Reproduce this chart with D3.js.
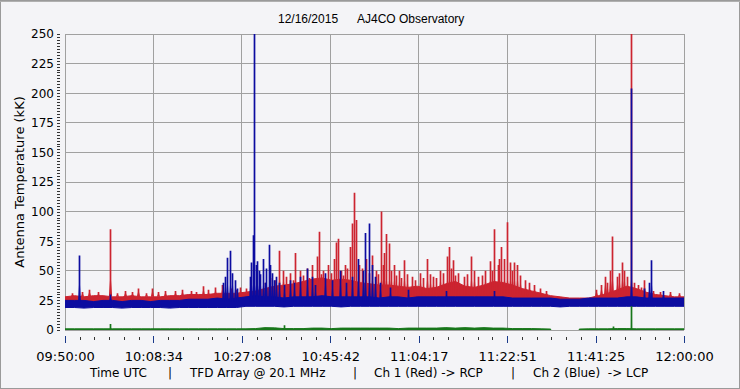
<!DOCTYPE html>
<html lang="en">
<head>
<meta charset="UTF-8">
<title>AJ4CO Observatory</title>
<script src="https://d3js.org/d3.v7.min.js"></script>
<style>
  body { margin: 0; background: #f4f4f7; }
  svg { display: block; }
  .tick text { fill: #000; }
</style>
</head>
<body>
<svg id="chart" width="740" height="389"></svg>
<script>
// minutes after 09:50:00 UTC, 2 min steps
const minutes = [0,2,4,6,8,10,12,14,16,18,20,22,24,26,28,30,32,34,36,38,40,42,44,46,48,50,52,54,56,58,60,62,64,66,68,70,72,74,76,78,80,82,84,86,88,90,92,94,96,98,100,102,104,106,108,110,112,114,116,118,120,122,124,126,128,130];

// Ch 1 (red, RCP) top of the dense band, kK
const redTop = [28,29,28,29,29,28,28,29,28,28,28,29,29,30,30,
  30,31,31,31,32, 33,35,37,38,39, 41,43,44,42,43,42,
  40,39,38,38,37,36,37, 35,36,39,41,37,36,38,41,
  40,38,35,33,31, 29,28,27,27,27, 29,31,34,37,35, 32,30,29,28,28];

// Ch 2 (blue, LCP) band
const blueHi = [25,25,25,24,25,25,24,25,25,24,25,25,25,26,26,
  26,27,26,27,28, 29,28,28,27,28, 28,28,29,28,28,28,
  28,28,27,28,28,27,28, 28,28,28,28,28,28,28,28,
  28,27,27,27,27, 27,26,26,26,27, 27,27,27,28,28, 27,27,27,27,27];
const blueLo = [19,19,18.5,19,19,19,18.5,19,19,19,19,18.5,19,19,19,
  19,19,19,19,20, 20,20,20,19.5,20, 20,20,20,20,19.5,20,
  20,20,20,20,20,20,20, 20,20,20,20,20,20,20,20,
  20,20,20,20,20, 20,19.5,20,20,20, 20,20,20,20,20, 20,20,20,20,20];

// reference channel (green)
const greenHi = [1,1,1,1,1,1,1,1,1,1,1,1,1,1,1,
  1,1,1,1,1, 1.2,2,1.8,1.2,1.2, 1.2,1.6,1.6,1.2,1.6,1.6,
  1.6,1.6,1.6,1.6,1.2,1.6,1.6, 1.6,1.6,2,1.6,2,1.6,2,1.6,
  1.6,1.2,1.2,1.2,1, 0.8,null,null,0.8,1, 1,1,1.2,1.2,1, 1,1,1,1,1];

// spikes: [minute, kK]
const redSpikes = [[1.5,31],[3.5,32],[5.0,34],[7.0,32],[9.4,85],[11.0,31],[12.6,33],[14.0,32],[15.3,35],
  [17.0,31],[18.3,35],[19.5,32],[21.0,33],[23.0,33],[24.6,34],[26.5,33],[27.5,32],[29.0,37],[30.0,34],
  [31.5,36],[33.0,38],[34.8,35],[36.0,34],[36.8,36],[38.0,35],
  [42.0,40],[43.0,44],[44.0,42],[44.9,67],[45.8,50],[46.5,45],[47.2,48],[47.8,42],[48.3,65],[49.3,50],
  [50.0,46],[50.8,52],[51.2,44],[51.9,55],[52.9,62],[53.3,83],[53.8,47],[54.2,50],[55.2,55],[55.8,48],
  [56.5,60],[56.9,74],[57.3,77],[57.9,50],[58.3,46],[58.8,55],[59.3,52],[59.8,70],[60.3,90],[60.7,116],
  [61.1,93],[61.8,55],[62.4,52],[63.2,60],[63.8,48],[64.5,63],[65.3,50],[65.8,47],[66.4,100],[66.8,55],
  [67.0,65],[67.4,81],[68.0,73],[68.5,50],[69.1,55],[69.6,46],[70.1,50],[70.6,44],[71.2,59],[71.8,47],
  [72.9,45],[73.5,42],[74.5,48],[75.2,44],[76.0,60],[76.6,47],[77.3,45],[78.0,44],[78.7,50],[79.3,48],
  [80.2,62],[80.6,70],[81.0,52],[81.5,59],[82.0,46],[82.5,48],[83.8,45],[84.5,47],[85.3,62],[86.0,50],
  [86.7,45],[87.5,46],[88.2,50],[89.2,58],[89.7,50],[90.1,85],[90.9,55],[91.2,60],[91.6,70],[92.2,60],
  [92.8,91],[93.4,57],[93.8,50],[94.3,57],[94.9,55],[95.5,46],[96.6,42],[97.5,40],[98.5,38],[99.7,35],
  [101.0,33],[111.5,34],[112.5,38],[113.4,45],[113.8,40],[114.5,50],[114.9,79],[115.9,45],[116.4,48],
  [117.0,57],[117.5,50],[118.0,45],[118.9,250],[119.5,40],[120.4,38],[121.0,36],[121.7,42],[123.5,33],
  [125.0,32],[127.0,32],[129.0,31]];
const blueSpikes = [[2.9,63],[9.4,30],[33.2,40],[33.6,45],[34.0,61],[34.6,67],[35.1,48],[35.6,42],
  [36.2,35],[38.8,45],[39.1,57],[39.5,80],[39.7,250],[40.1,55],[40.4,58],[40.7,50],[41.0,47],[41.6,60],
  [41.9,40],[42.2,52],[42.8,72],[43.0,55],[43.5,48],[43.8,42],[44.3,45],[45.0,40],[46.0,38],[47.2,42],
  [48.0,40],[49.3,45],[50.8,52],[51.9,45],[52.5,38],[54.6,48],[56.0,42],[57.7,50],[59.0,40],[60.2,45],
  [61.5,60],[62.5,50],[63.0,82],[63.8,90],[64.5,55],[65.0,45],[66.1,40],[68.3,36],[72.0,34],[80.0,33],
  [90.0,33],[118.9,204],[121.5,35],[122.6,40],[123.1,59],[125.5,33]];
const greenSpikes = [[9.4,5],[46.0,4],[115.0,3],[118.9,20]];

const yTicks = [0,25,50,75,100,125,150,175,200,225,250];
const xTickLabels = ["09:50:00","10:08:34","10:27:08","10:45:42","11:04:17","11:22:51","11:41:25","12:00:00"];

const svg = d3.select("#chart");
const W = 740, H = 389;
const pL = 65, pR = 684, pT = 34, pB = 330;

const x = d3.scaleLinear().domain([0, 130]).range([pL, pR]);
const y = d3.scaleLinear().domain([0, 250]).range([pB, pT]);
const xTicks = xTickLabels.map((d, i) => i * 130 / 7);
const xMinor = d3.range(0, 43).map(i => i * 130 / 42);
const yMinor = d3.range(0, 101).map(i => i * 2.5);

svg.append("rect").attr("x", 0.5).attr("y", 0.5).attr("width", W - 1).attr("height", H - 1)
  .attr("fill", "#f4f4f7").attr("stroke", "#9a9a9a");
svg.append("line").attr("x1", 0).attr("x2", W).attr("y1", 1.5).attr("y2", 1.5).attr("stroke", "#b0b0b0");

svg.append("defs").append("clipPath").attr("id", "plot")
  .append("rect").attr("x", pL).attr("y", pT).attr("width", pR - pL).attr("height", pB - pT);

// grid
const grid = svg.append("g").attr("stroke", "#a0a0a0").attr("shape-rendering", "crispEdges");
grid.selectAll(".h").data(yTicks).join("line")
  .attr("x1", pL).attr("x2", pR).attr("y1", d => y(d)).attr("y2", d => y(d));
grid.selectAll(".v").data(xTicks).join("line")
  .attr("y1", pT).attr("y2", pB).attr("x1", d => x(d)).attr("x2", d => x(d));

// y axis
svg.append("g").attr("transform", "translate(60,0)")
  .call(d3.axisLeft(y).tickValues(yTicks).tickSize(0).tickPadding(6))
  .call(g => g.select(".domain").remove())
  .call(g => g.selectAll("text").attr("font-family", "DejaVu Sans").attr("font-size", 12));
svg.append("g").attr("transform", "translate(60,0)")
  .call(d3.axisLeft(y).tickValues(yMinor).tickSize(3).tickFormat(""))
  .call(g => g.select(".domain").remove())
  .call(g => g.selectAll("line").attr("stroke", "#333").attr("shape-rendering", "crispEdges"));

// x axis
svg.append("g").attr("transform", "translate(0,337)")
  .call(d3.axisBottom(x).tickValues(xMinor).tickSize(3).tickFormat(""))
  .call(g => g.select(".domain").remove())
  .call(g => g.selectAll("line").attr("stroke", "#333").attr("shape-rendering", "crispEdges"));
svg.append("g").attr("transform", "translate(0,336)")
  .call(d3.axisBottom(x).tickValues(xTicks).tickSize(7).tickPadding(9).tickFormat((d, i) => xTickLabels[i]))
  .call(g => g.select(".domain").remove())
  .call(g => g.selectAll("line").attr("stroke", "#1a3a8a").attr("shape-rendering", "crispEdges"))
  .call(g => g.selectAll("text").attr("font-family", "DejaVu Sans").attr("font-size", 13));

// data
const plot = svg.append("g").attr("clip-path", "url(#plot)");
const rows = minutes.map((t, i) => ({ t, rt: redTop[i], bh: blueHi[i], bl: blueLo[i], g: greenHi[i] }));

const RED = "#cc2430", BLUE = "#0c0ca0", GREEN = "#17761a";

// spike: wider near the band, then a thin line to the peak
const spike = (base, w) => d => {
  const cx = Math.round(x(d[0])) + 0.5, yb = y(base), yt = y(d[1]), h = 0.85;
  const ym = y(base + Math.min(14, (d[1] - base) * 0.6));
  return `M${cx - w},${yb}L${cx - h},${ym}L${cx - h},${yt}L${cx + h},${yt}L${cx + h},${ym}L${cx + w},${yb}Z`;
};

plot.append("path").datum(rows)
  .attr("d", d3.area().x(d => x(d.t)).y0(d => y(d.bl + 2)).y1(d => y(d.rt)))
  .attr("fill", RED).attr("stroke", RED).attr("stroke-width", 1);
plot.selectAll(".rs").data(redSpikes).join("path")
  .attr("d", spike(28, 1.6)).attr("fill", RED);

plot.append("path").datum(rows)
  .attr("d", d3.area().x(d => x(d.t)).y0(d => y(d.bl)).y1(d => y(d.bh)))
  .attr("fill", BLUE).attr("stroke", BLUE).attr("stroke-width", 1);
plot.selectAll(".bs").data(blueSpikes).join("path")
  .attr("d", spike(24, 1.4)).attr("fill", BLUE);

plot.append("path").datum(rows)
  .attr("d", d3.area().defined(d => d.g != null).x(d => x(d.t)).y0(y(0)).y1(d => y(d.g)))
  .attr("fill", GREEN).attr("stroke", GREEN).attr("stroke-width", 1);
plot.selectAll(".gs").data(greenSpikes).join("path")
  .attr("d", spike(0, 0.9)).attr("fill", GREEN);

// texts
const txt = (s, xx, yy, size, fam) => svg.append("text").attr("x", xx).attr("y", yy)
  .attr("font-family", fam).attr("font-size", size).attr("fill", "#000").text(s);
txt("12/16/2015", 278, 23, 12, "Liberation Sans, Arial");
txt("AJ4CO Observatory", 357, 23, 12, "Liberation Sans, Arial");

svg.append("text").attr("transform", "translate(24,182) rotate(-90)")
  .attr("text-anchor", "middle").attr("font-family", "DejaVu Sans").attr("font-size", 13)
  .text("Antenna Temperature (kK)");

const caption = [["Time UTC", 90], ["|", 168], ["TFD Array @ 20.1 MHz", 190], ["|", 353],
  ["Ch 1 (Red) -> RCP", 374], ["|", 511], ["Ch 2 (Blue)  -> LCP", 533]];
caption.forEach(([s, xx]) => txt(s, xx, 377, 12, "DejaVu Sans").attr("xml:space", "preserve").style("white-space", "pre"));
</script>
</body>
</html>
